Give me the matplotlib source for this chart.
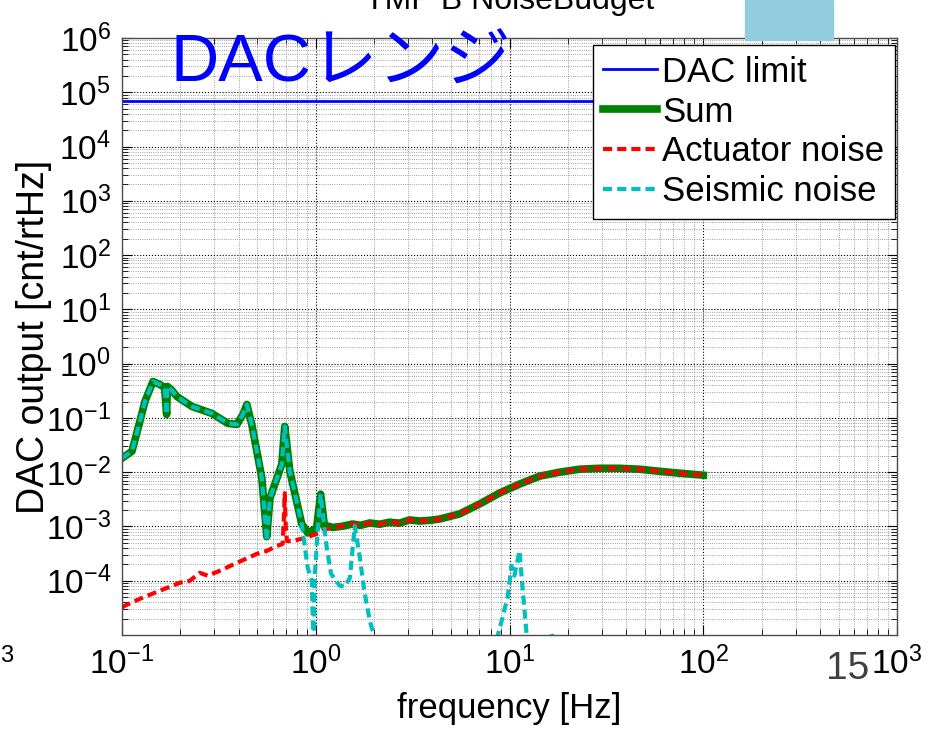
import matplotlib
matplotlib.use("Agg")
import matplotlib.pyplot as plt
from matplotlib.patches import Rectangle
from matplotlib.ticker import LogLocator, NullFormatter

# data
dac_freq = [0.1, 100]
dac_limit = [7.0e4, 7.0e4]

sum_freq = [0.1, 0.1126, 0.121, 0.1314, 0.1445, 0.157, 0.166, 0.170, 0.1715, 0.18,
            0.192, 0.2296, 0.291, 0.352, 0.392, 0.421, 0.441, 0.468, 0.527, 0.559,
            0.580, 0.668, 0.692, 0.735, 0.847, 0.91, 1.01, 1.06, 1.11, 1.153,
            1.22, 1.35, 1.55, 1.7, 1.9, 2.14, 2.4, 2.7, 3.05, 3.44, 3.9, 4.36,
            5.52, 7.0, 8.87, 11.26, 14.3, 18.1, 23.0, 29.1, 36.9, 46.8, 59.3, 75.2, 100]
sum_val = [0.0181, 0.0243, 0.064, 0.201, 0.468, 0.412, 0.36, 0.116, 0.38, 0.33,
           0.248, 0.1625, 0.121, 0.0793, 0.076, 0.116, 0.177, 0.075, 0.0078, 6.5e-4,
           3.3e-3, 0.014, 0.0698, 0.0104, 1.11e-3, 7.6e-4, 9.4e-4, 3.94e-3, 1.0e-3, 1.02e-3,
           9.6e-4, 1.0e-3, 1.11e-3, 1.05e-3, 1.16e-3, 1.10e-3, 1.2e-3, 1.15e-3, 1.32e-3, 1.26e-3, 1.3e-3, 1.37e-3,
           1.70e-3, 2.59e-3, 4.12e-3, 6.03e-3, 8.45e-3, 1.0e-2, 1.135e-2, 1.18e-2, 1.18e-2, 1.135e-2, 1.04e-2, 9.6e-3, 8.8e-3]

act_freq = [0.1, 0.1036, 0.124, 0.157, 0.199, 0.224, 0.252, 0.277, 0.32, 0.392,
            0.497, 0.559, 0.63, 0.675, 0.685, 0.692, 0.70, 0.71, 0.76, 0.88,
            1.01, 1.1, 1.22, 1.35, 1.55, 1.7, 1.9, 2.14, 2.4, 2.7, 3.05, 3.44,
            3.9, 4.36, 5.52, 7.0, 8.87, 11.26, 14.3, 18.1, 23.0, 29.1, 36.9, 46.8, 59.3, 75.2, 100]
act_val = [3.2e-5, 3.48e-5, 4.67e-5, 6.56e-5, 9.2e-5, 1.0e-4, 1.4e-4, 1.24e-4, 1.53e-4, 2.14e-4,
           3.13e-4, 3.55e-4, 4.38e-4, 4.77e-4, 1.5e-3, 4.1e-3, 1.0e-3, 5.4e-4, 5.4e-4, 6.15e-4,
           7.3e-4, 8.6e-4, 9.6e-4, 1.0e-3, 1.11e-3, 1.05e-3, 1.16e-3, 1.10e-3, 1.2e-3, 1.15e-3, 1.32e-3, 1.26e-3,
           1.3e-3, 1.37e-3, 1.70e-3, 2.59e-3, 4.12e-3, 6.03e-3, 8.45e-3, 1.0e-2, 1.135e-2, 1.18e-2, 1.18e-2, 1.135e-2, 1.04e-2, 9.6e-3, 8.8e-3]

seis_freq = [0.1, 0.1126, 0.121, 0.1314, 0.1445, 0.157, 0.166, 0.170, 0.1715, 0.18,
             0.192, 0.2296, 0.291, 0.352, 0.392, 0.421, 0.441, 0.468, 0.527, 0.559,
             0.580, 0.668, 0.692, 0.735, 0.847, 0.88, 0.91, 0.954, 0.966, 0.975,
             0.985, 1.023, 1.06, 1.10, 1.14, 1.2, 1.33, 1.41, 1.50, 1.55, 1.59,
             1.69, 1.78, 1.9, 2.0, 2.2, 8.0, 8.57, 9.2, 9.77, 10.24, 10.6, 11.26,
             11.68, 12.24, 13.0, 16.0, 16.5, 17.0, 100]
seis_val = [0.0181, 0.0243, 0.064, 0.201, 0.468, 0.412, 0.36, 0.116, 0.38, 0.33,
            0.248, 0.1625, 0.121, 0.0793, 0.076, 0.116, 0.177, 0.075, 0.0078, 5.4e-4,
            3.3e-3, 0.014, 0.0698, 0.0104, 1.11e-3, 4.0e-4, 1.7e-4, 1.0e-4, 1.85e-5, 1e-6,
            1.0e-4, 8.4e-4, 3.94e-3, 1.2e-3, 4.0e-4, 1.34e-4, 8.1e-5, 7.8e-5, 1.13e-4, 4.0e-4, 1.02e-3,
            2.64e-4, 6.56e-5, 1.85e-5, 9.6e-6, 1e-6, 1e-6, 8e-6, 2.1e-5, 4.9e-5, 1.88e-4, 1.24e-4, 3.55e-4,
            7.4e-5, 1.07e-5, 1e-6, 5e-6, 1.1e-5, 5e-6, 1e-7]

legend_labels = ["DAC limit", "Sum", "Actuator noise", "Seismic noise"]

plt.rcParams["font.family"] = ["Liberation Sans", "DejaVu Sans"]
plt.rcParams["mathtext.fontset"] = "custom"
plt.rcParams["mathtext.rm"] = "Liberation Sans"
plt.rcParams["mathtext.it"] = "Liberation Sans:italic"
plt.rcParams["mathtext.bf"] = "Liberation Sans:bold"
plt.rcParams["axes.unicode_minus"] = False

fig = plt.figure(figsize=(9.39, 7.29), dpi=100)
ax = fig.add_axes([0.1299, 0.1289, 0.8254, 0.8190])

ax.loglog(dac_freq, dac_limit, color="#0000ff", lw=2, label=legend_labels[0])
ax.loglog(sum_freq, sum_val, color="#008000", lw=5.5, label=legend_labels[1])
ax.loglog(act_freq, act_val, color="#ff0000", lw=3, ls=(0, (2.2, 1.2)), label=legend_labels[2])
ax.loglog(seis_freq, seis_val, color="#00bfbf", lw=3, ls=(0, (2.2, 1.2)), label=legend_labels[3])

ax.set_xlim(0.1, 1000)
ax.set_ylim(1e-5, 1e6)
ax.set_xticks([0.1, 1, 10, 100, 1000])
ax.set_yticks([10.0 ** k for k in range(-4, 7)])
ax.xaxis.set_minor_locator(LogLocator(base=10, subs=range(2, 10), numticks=50))
ax.yaxis.set_minor_locator(LogLocator(base=10, subs=range(2, 10), numticks=50))
ax.xaxis.set_minor_formatter(NullFormatter())
ax.yaxis.set_minor_formatter(NullFormatter())

ax.grid(True, which="major", ls=":", color="k", lw=0.8)
ax.grid(True, which="minor", ls=":", color="0.5", lw=0.6)
ax.tick_params(which="both", direction="in", top=True, right=True, labelsize=24)
ax.tick_params(which="major", length=7, pad=8)
ax.tick_params(which="minor", length=4)
for s in ax.spines.values():
    s.set_linewidth(1.0)
    s.set_color("0.3")

ax.set_xlabel("frequency [Hz]", fontsize=25)
ax.set_ylabel("DAC output [cnt/rtHz]", fontsize=27)
ax.xaxis.set_label_coords(0.5, -0.095)
ax.yaxis.set_label_coords(-0.09, 0.5)

leg = ax.legend(loc="upper right", bbox_to_anchor=(0.9974, 0.988), borderaxespad=0,
                fontsize=25, handlelength=1.55, handletextpad=0.15, labelspacing=0.2,
                borderpad=0.3, fancybox=False, framealpha=1, edgecolor="k")
leg.get_frame().set_linewidth(1.0)

# slide overlays
fig.text(509.5 / 939, 1 - 9 / 729, "TMP B NoiseBudget", ha="center", va="baseline", fontsize=23)
fig.text(170 / 939, 1 - 82 / 729, "DACレンジ", ha="left", va="baseline", fontsize=48,
         color="#0000ff", family=["Liberation Sans", "Noto Sans CJK JP"])
fig.add_artist(Rectangle((745 / 939, 1 - 40 / 729), 88 / 939, 40 / 729,
                         transform=fig.transFigure, color="#93cddd", zorder=5))
fig.text(826 / 939, 1 - 679 / 729, "15", ha="left", va="baseline", fontsize=28,
         color="#404040", zorder=1)
fig.text(0, 1 - 662 / 729, "3", ha="left", va="baseline", fontsize=17)

fig.savefig("out.png", dpi=100)
